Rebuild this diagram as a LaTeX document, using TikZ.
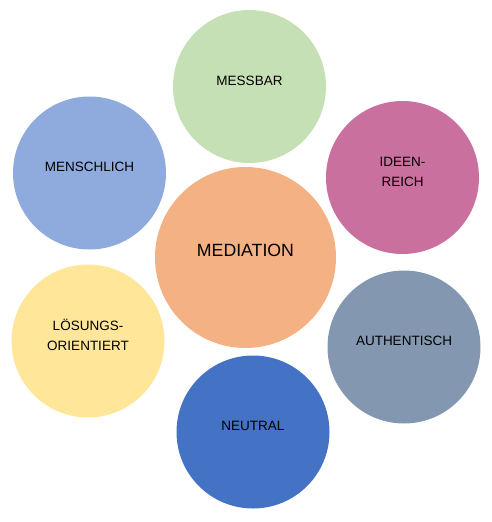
\documentclass[tikz,border=0pt]{standalone}
\usepackage{fontspec}
\setmainfont{Liberation Sans}
\definecolor{medorange}{HTML}{F4B183}
\definecolor{messgreen}{HTML}{C5E0B4}
\definecolor{menschblue}{HTML}{8FAADC}
\definecolor{ideenpink}{HTML}{C9709F}
\definecolor{authgray}{HTML}{8497B0}
\definecolor{neutralblue}{HTML}{4472C4}
\definecolor{loesyellow}{HTML}{FFE699}

\begin{document}
\begin{tikzpicture}[x=1pt, y=-1pt]
    \tikzstyle{bubble} = [circle, draw=none, minimum size=153pt, inner sep=0pt, align=center, text=black, text depth=12pt, font=\fontsize{13.5}{20}\selectfont]
    \tikzstyle{hub} = [bubble, minimum size=181pt, text depth=15pt, font=\fontsize{17.7}{21}\selectfont]
    \useasboundingbox (0,0) rectangle (492,522);

    \node (mediation) [hub, fill=medorange] at (245.5,257.5) {MEDIATION};
    \node (messbar) [bubble, fill=messgreen] at (249.5,86.5) {MESSBAR};
    \node (menschlich) [bubble, fill=menschblue] at (89.5,173) {MENSCHLICH};
    \node (ideenreich) [bubble, fill=ideenpink] at (402.5,177.5) {IDEEN-\\REICH};
    \node (authentisch) [bubble, fill=authgray] at (404,347) {AUTHENTISCH};
    \node (neutral) [bubble, fill=neutralblue] at (253,432) {NEUTRAL};
    \node (loesungs) [bubble, fill=loesyellow] at (88,341) {LÖSUNGS-\\ORIENTIERT};
\end{tikzpicture}
\end{document}
